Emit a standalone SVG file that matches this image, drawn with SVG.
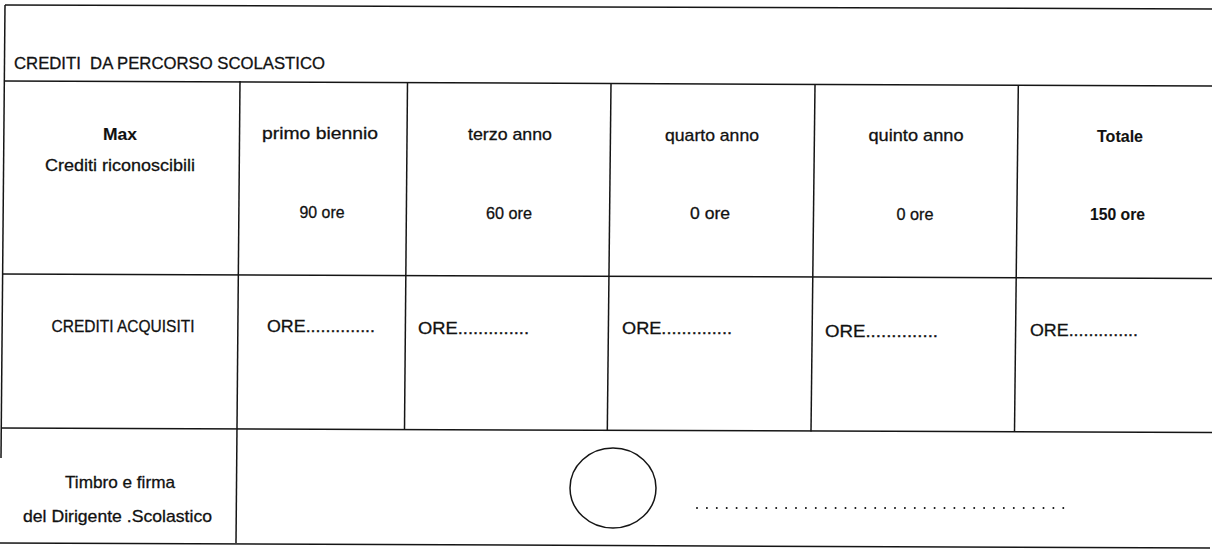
<svg xmlns="http://www.w3.org/2000/svg" width="1212" height="549" viewBox="0 0 1212 549">
<style>
.ln{stroke:#151515;stroke-width:1.5;fill:none}
.t{font-family:"Liberation Sans",Arial,sans-serif;font-size:17px;fill:#111;stroke:#111;stroke-width:0.3}
.c{text-anchor:middle}
.b{font-weight:bold;stroke-width:0.1}
.dots{stroke:#111;stroke-width:2;stroke-linecap:round;stroke-dasharray:0 9.9;fill:none}
</style>
<rect width="1212" height="549" fill="#fff"/>
<g id="grid">
<line class="ln" x1="5" y1="5" x2="1212" y2="9"/>
<line class="ln" x1="5" y1="81" x2="1212" y2="86"/>
<line class="ln" x1="2" y1="274" x2="1212" y2="278.5"/>
<line class="ln" x1="1" y1="428" x2="1212" y2="432.5"/>
<line class="ln" x1="0" y1="543" x2="1210" y2="548"/>
<line class="ln" x1="5" y1="5" x2="1" y2="458"/>
<line class="ln" x1="240" y1="81" x2="236" y2="543"/>
<line class="ln" x1="407.5" y1="82" x2="404.5" y2="429"/>
<line class="ln" x1="611" y1="84" x2="607.3" y2="431"/>
<line class="ln" x1="815" y1="85" x2="811" y2="431.5"/>
<line class="ln" x1="1018.3" y1="86" x2="1014.5" y2="432"/>
</g>
<g id="header"><text class="t" x="14" y="69" textLength="311" lengthAdjust="spacingAndGlyphs" xml:space="preserve">CREDITI  DA PERCORSO SCOLASTICO</text></g>
<g id="max-label">
<text class="t c b" x="120" y="140" textLength="34" lengthAdjust="spacingAndGlyphs">Max</text>
<text class="t c" x="120" y="171" textLength="150" lengthAdjust="spacingAndGlyphs">Crediti riconoscibili</text>
</g>
<g id="primo"><text class="t c" x="320" y="139" textLength="116" lengthAdjust="spacingAndGlyphs">primo biennio</text><text class="t c" x="322" y="218" textLength="45" lengthAdjust="spacingAndGlyphs">90 ore</text></g>
<g id="terzo"><text class="t c" x="510" y="140" textLength="84" lengthAdjust="spacingAndGlyphs">terzo anno</text><text class="t c" x="509" y="219" textLength="46" lengthAdjust="spacingAndGlyphs">60 ore</text></g>
<g id="quarto"><text class="t c" x="712" y="141" textLength="94" lengthAdjust="spacingAndGlyphs">quarto anno</text><text class="t c" x="710" y="219" textLength="40" lengthAdjust="spacingAndGlyphs">0 ore</text></g>
<g id="quinto"><text class="t c" x="916" y="141" textLength="95" lengthAdjust="spacingAndGlyphs">quinto anno</text><text class="t c" x="915" y="220" textLength="37" lengthAdjust="spacingAndGlyphs">0 ore</text></g>
<g id="totale"><text class="t c b" x="1120" y="142" textLength="46" lengthAdjust="spacingAndGlyphs">Totale</text><text class="t c b" x="1117.5" y="220" textLength="55" lengthAdjust="spacingAndGlyphs">150 ore</text></g>
<g id="acquisiti"><text class="t c" x="123" y="332" textLength="143" lengthAdjust="spacingAndGlyphs">CREDITI ACQUISITI</text></g>
<g id="ore1"><text class="t" x="267" y="332" textLength="108" lengthAdjust="spacingAndGlyphs">ORE..............</text></g>
<g id="ore2"><text class="t" x="418" y="334" textLength="111" lengthAdjust="spacingAndGlyphs">ORE..............</text></g>
<g id="ore3"><text class="t" x="622" y="334" textLength="110" lengthAdjust="spacingAndGlyphs">ORE..............</text></g>
<g id="ore4"><text class="t" x="825" y="337" textLength="113" lengthAdjust="spacingAndGlyphs">ORE..............</text></g>
<g id="ore5"><text class="t" x="1030" y="336" textLength="108" lengthAdjust="spacingAndGlyphs">ORE..............</text></g>
<g id="timbro">
<text class="t c" x="120" y="488" textLength="110" lengthAdjust="spacingAndGlyphs">Timbro e firma</text>
<text class="t c" x="117.5" y="522" textLength="189" lengthAdjust="spacingAndGlyphs">del Dirigente .Scolastico</text>
</g>
<g id="firma">
<ellipse class="ln" cx="613" cy="488" rx="43" ry="40"/>
<line class="dots" x1="697" y1="508" x2="1068" y2="508"/>
</g>
</svg>
